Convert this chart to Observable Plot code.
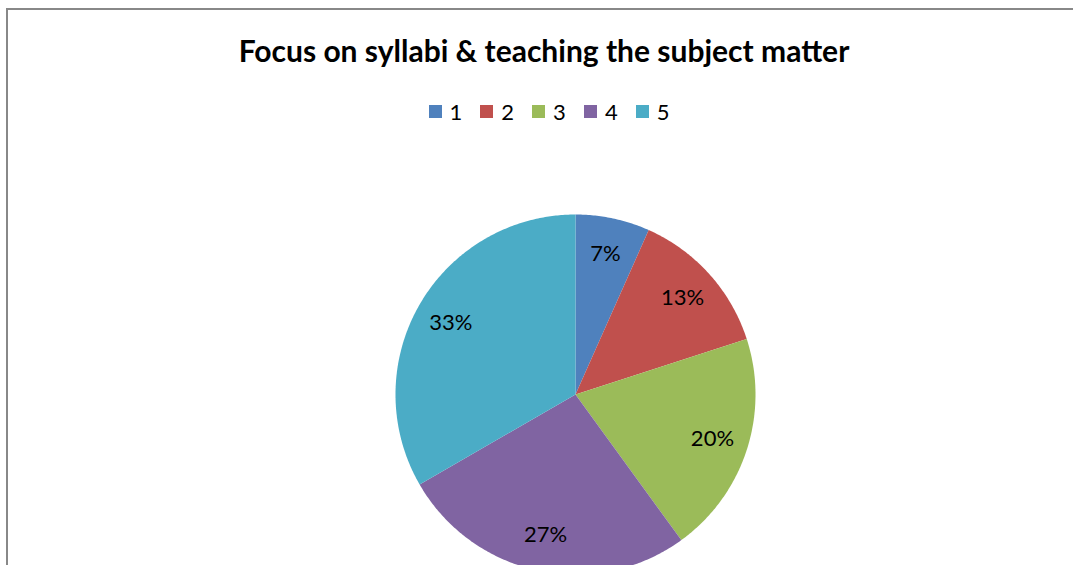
<!DOCTYPE html>
<html><head><meta charset="utf-8">
<script src="https://cdn.jsdelivr.net/npm/d3@7"></script>
<script src="https://cdn.jsdelivr.net/npm/@observablehq/plot@0.6"></script>
<style>
html,body{margin:0;padding:0;overflow:hidden;background:#fff;}
#wrap{position:relative;width:1073px;height:565px;overflow:hidden;font-family:Lato,"Open Sans",sans-serif;}
#frame{position:absolute;left:6px;top:8px;width:1200px;height:700px;border-left:2px solid #888;border-top:2px solid #888;box-sizing:border-box;}
#chart{position:absolute;left:0;top:0;}
#title{position:absolute;left:0;width:1088px;top:32px;text-align:center;font-weight:bold;font-size:30px;color:#000;line-height:36px;}
#legend{position:absolute;left:0;width:1098px;top:98px;display:flex;justify-content:center;}
#legend .item{display:flex;align-items:center;margin:0 9px;font-size:22px;color:#000;}
#legend .sw{width:13px;height:13px;margin-right:8px;}
</style>
</head><body>
<div id="wrap">
  <div id="chart"></div>
  <div id="frame"></div>
  <div id="title">Focus on syllabi &amp; teaching the subject matter</div>
  <div id="legend"></div>
</div>
<script>
const categories = ["1", "2", "3", "4", "5"];
const values = [1, 2, 3, 4, 5];
const percentLabels = ["7%", "13%", "20%", "27%", "33%"];
const colors = ["#4F81BD", "#C0504D", "#9BBB59", "#8064A2", "#4BACC6"];

const arcs = d3.pie().sort(null).value(d => d)(values);
const slices = [];
arcs.forEach((a, i) => {
  slices.push({cat: categories[i], x: 0, y: 0});
  const n = Math.max(8, Math.ceil((a.endAngle - a.startAngle) / 0.01));
  for (let k = 0; k <= n; k++) {
    const t = a.startAngle + (a.endAngle - a.startAngle) * k / n;
    slices.push({cat: categories[i], x: Math.sin(t), y: Math.cos(t)});
  }
});
const labelData = arcs.map((a, i) => {
  const m = (a.startAngle + a.endAngle) / 2;
  return {cat: categories[i], text: percentLabels[i], x: 0.8 * Math.sin(m), y: 0.8 * Math.cos(m)};
});

const plot = Plot.plot({
  width: 1073,
  height: 565,
  x: {domain: [-1, 1], range: [395, 755], axis: null},
  y: {domain: [-1, 1], range: [574, 214], axis: null},
  color: {domain: categories, range: colors},
  style: {fontFamily: "Lato, 'Open Sans', sans-serif", background: "transparent", overflow: "hidden"},
  marks: [
    Plot.line(slices, {x: "x", y: "y", z: "cat", fill: "cat", stroke: null, curve: "linear-closed"}),
    Plot.text(labelData, {x: "x", y: "y", text: "text", fontSize: 22, fill: "#000"})
  ]
});
document.getElementById("chart").appendChild(plot);

const color = plot.scale("color");
const leg = document.getElementById("legend");
categories.forEach((c, i) => {
  const item = document.createElement("div");
  item.className = "item";
  const sw = document.createElement("span");
  sw.className = "sw";
  sw.style.background = colors[color.domain.indexOf(c)];
  const tx = document.createElement("span");
  tx.textContent = c;
  item.appendChild(sw); item.appendChild(tx);
  leg.appendChild(item);
});
</script>
</body></html>
